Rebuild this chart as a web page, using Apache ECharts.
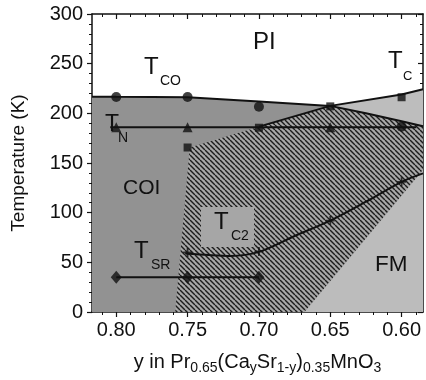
<!DOCTYPE html>
<html>
<head>
<meta charset="utf-8">
<script src="https://cdn.jsdelivr.net/npm/echarts@6/dist/echarts.min.js"></script>
<style>
  html, body { margin: 0; padding: 0; background: #fff; }
  #chart { width: 426px; height: 380px; }
</style>
</head>
<body>
<div id="chart"></div>
<script>
// composition axis (reversed, y decreases to the right)
const xMin = 0.585
const xMax = 0.817
const xMajor = [0.60, 0.65, 0.70, 0.75, 0.80]
const xMinor = [0.59, 0.61, 0.62, 0.63, 0.64, 0.66, 0.67, 0.68, 0.69,
  0.71, 0.72, 0.73, 0.74, 0.76, 0.77, 0.78, 0.79, 0.81]

// T_CO boundary (PI / COI)
const tcoX = [0.817, 0.80, 0.75, 0.70, 0.65, 0.625, 0.60, 0.585]
const tcoT = [216.8, 216.6, 216.2, 211.8, 207.5, 200, 192, 187]
// T_C boundary (PI / FM)
const tcX = [0.70, 0.65, 0.60, 0.585]
const tcT = [186.6, 207.5, 219, 224.3]
// T_N (horizontal)
const tnX = [0.8042, 0.5897]
const tnT = [186, 186]
// T_SR
const tsrX = [0.80, 0.75, 0.70]
const tsrT = [35, 35, 35]
// T_C2 curve
const tc2X = [0.7517, 0.735, 0.72, 0.70, 0.675, 0.65, 0.625, 0.60, 0.585]
const tc2T = [59, 57.4, 56.5, 60.5, 76.5, 92, 111, 131, 139.5]

// measured points
const circlePts = [[0.80, 216.5], [0.75, 216.5], [0.70, 206.7], [0.60, 186.5]]
const squarePts = [[0.75, 165.6], [0.70, 185.5], [0.65, 207], [0.60, 216.2]]
const trianglePts = [[0.80, 186], [0.75, 186], [0.65, 186]]
const diamondPts = [[0.80, 35], [0.75, 35], [0.70, 35]]
const plusPts = [[0.75, 60], [0.70, 61], [0.65, 92], [0.60, 131]]

// region edges
const mixedEdge = [[0.7587, 0], [0.7485, 165.6]]   // COI | mixed
const fmEdge = [[0.668, 0], [0.585, 143]]           // mixed | FM

const zip = (xs, ys) => xs.map((x, i) => [x, ys[i]])
const tcoLine = zip(tcoX, tcoT)
const tcLine = zip(tcX, tcT)

// regions built from the boundaries
const coiRegion = [[xMax, 0]].concat(tcoLine, [[xMin, 0]])
const tcFromCross = tcLine.filter(p => p[0] <= 0.65)
const tcoFromCross = tcoLine.filter(p => p[0] <= 0.65)
const upperFmRegion = tcFromCross.concat(tcoFromCross.slice().reverse())
const mixedRegion = [mixedEdge[0], mixedEdge[1]]
  .concat(tcLine.filter(p => p[0] > 0.65), tcoFromCross, [fmEdge[1], fmEdge[0]])
const fmRegion = [fmEdge[0], fmEdge[1], [xMin, 0]]

// hatch tile
const tile = document.createElement('canvas')
tile.width = 5
tile.height = 5
const tctx = tile.getContext('2d')
tctx.strokeStyle = '#1c1c1c'
tctx.lineWidth = 1.4
for (const k of [-5, 0, 5]) {
  tctx.beginPath()
  tctx.moveTo(k, 0)
  tctx.lineTo(k + 5, 5)
  tctx.stroke()
}

const FONT = '"Liberation Sans", Arial, Helvetica, sans-serif'

function region(points, fill) {
  return {
    type: 'custom',
    coordinateSystem: 'cartesian2d',
    silent: true,
    z: 1,
    data: [[xMin, 0]],
    renderItem: (params, api) => ({
      type: 'polygon',
      shape: { points: points.map(p => api.coord(p)) },
      style: { fill: fill }
    })
  }
}

function line(data, smooth) {
  return {
    type: 'line',
    data: data,
    smooth: smooth || false,
    showSymbol: false,
    silent: true,
    z: 3,
    lineStyle: { color: '#111', width: 2 }
  }
}

function marks(data, symbol, size) {
  return {
    type: 'scatter',
    data: data,
    symbol: symbol,
    symbolSize: size,
    silent: true,
    z: 4,
    itemStyle: { color: '#111' }
  }
}

function txt(text, x, y, size) {
  return {
    type: 'text',
    x: x,
    y: y,
    z: 100,
    silent: true,
    style: {
      text: text,
      fontFamily: FONT,
      fontSize: size,
      fill: '#111',
      align: 'left',
      verticalAlign: 'middle'
    }
  }
}

const xBase = {
  type: 'value',
  min: xMin,
  max: xMax,
  inverse: true,
  splitLine: { show: false }
}
const yBase = {
  type: 'value',
  min: 0,
  max: 300,
  interval: 50,
  splitLine: { show: false }
}
const axisLineStyle = { show: true, lineStyle: { color: '#111', width: 1.5 } }

const chart = echarts.init(document.getElementById('chart'))
chart.setOption({
  animation: false,
  backgroundColor: '#fff',
  grid: { left: 92, right: 3, top: 14, bottom: 68, containLabel: false, outerBoundsMode: 'none' },
  xAxis: [
    Object.assign({}, xBase, {
      position: 'bottom',
      axisLine: axisLineStyle,
      axisTick: { show: true, customValues: xMajor, length: 5, lineStyle: { color: '#111', width: 1.2 } },
      axisLabel: {
        customValues: xMajor,
        formatter: v => v.toFixed(2),
        fontFamily: FONT, fontSize: 20, color: '#111', margin: 8
      },
      name: 'y in Pr{s|0.65}(Ca{s|y}Sr{s|1-y}){s|0.35}MnO{s|3}',
      nameLocation: 'middle',
      nameGap: 37,
      nameTextStyle: {
        fontFamily: FONT, fontSize: 20, color: '#111', lineHeight: 26,
        rich: { s: { fontFamily: FONT, fontSize: 14, color: '#111', lineHeight: 14, verticalAlign: 'bottom' } }
      }
    }),
    Object.assign({}, xBase, {
      position: 'bottom',
      axisLine: { show: false },
      axisTick: { show: true, customValues: xMinor, length: 3, lineStyle: { color: '#111', width: 1 } },
      axisLabel: { show: false }
    }),
    Object.assign({}, xBase, {
      position: 'top',
      axisLine: axisLineStyle,
      axisTick: { show: true, inside: true, customValues: xMajor, length: 5, lineStyle: { color: '#111', width: 1.2 } },
      axisLabel: { show: false }
    }),
    Object.assign({}, xBase, {
      position: 'top',
      axisLine: { show: false },
      axisTick: { show: true, inside: true, customValues: xMinor, length: 3, lineStyle: { color: '#111', width: 1 } },
      axisLabel: { show: false }
    })
  ],
  yAxis: [
    Object.assign({}, yBase, {
      position: 'left',
      axisLine: axisLineStyle,
      axisTick: { show: true, length: 5, lineStyle: { color: '#111', width: 1.2 } },
      minorTick: { show: true, splitNumber: 5, length: 3, lineStyle: { color: '#111', width: 1 } },
      axisLabel: { fontFamily: FONT, fontSize: 20, color: '#111', margin: 9 },
      name: 'Temperature (K)',
      nameLocation: 'middle',
      nameGap: 64,
      nameTextStyle: { fontFamily: FONT, fontSize: 19, color: '#111' }
    }),
    Object.assign({}, yBase, {
      position: 'right',
      axisLine: axisLineStyle,
      axisTick: { show: true, inside: true, length: 5, lineStyle: { color: '#111', width: 1.2 } },
      minorTick: { show: true, splitNumber: 5, length: 3, lineStyle: { color: '#111', width: 1 } },
      axisLabel: { show: false }
    })
  ],
  series: [
    region(coiRegion, '#929292'),
    region(upperFmRegion, '#bdbdbd'),
    region(mixedRegion, '#a8a8a8'),
    region(mixedRegion, { image: tile, repeat: 'repeat' }),
    region(fmRegion, '#bcbcbc'),
    line(tcoLine),
    line(tcLine),
    line(zip(tnX, tnT)),
    line(zip(tsrX, tsrT)),
    line(zip(tc2X, tc2T), 0.3),
    marks(circlePts, 'circle', 10),
    marks(squarePts, 'rect', 8),
    marks(trianglePts, 'triangle', 10),
    marks(diamondPts, 'diamond', [11, 13]),
    marks(plusPts, 'path://M4 0h2v4h4v2h-4v4h-2v-4h-4v-2h4z', 9)
  ],
  graphic: [
    { type: 'rect', z: 90, silent: true, shape: { x: 201, y: 207, width: 53, height: 40 }, style: { fill: '#a6a6a6' } },
    txt('PI', 253, 42, 24),
    txt('T', 144, 67.5, 24), txt('CO', 160, 81.5, 14),
    txt('T', 388, 61.5, 24), txt('C', 403, 76, 13),
    txt('T', 105, 125, 23), txt('N', 118, 138, 14),
    txt('COI', 123, 188.5, 21),
    txt('T', 214, 222.5, 24), txt('C2', 231, 236.5, 14),
    txt('T', 134, 251.5, 24), txt('SR', 151, 265, 14),
    txt('FM', 375, 265, 22.5)
  ]
})
</script>
</body>
</html>
